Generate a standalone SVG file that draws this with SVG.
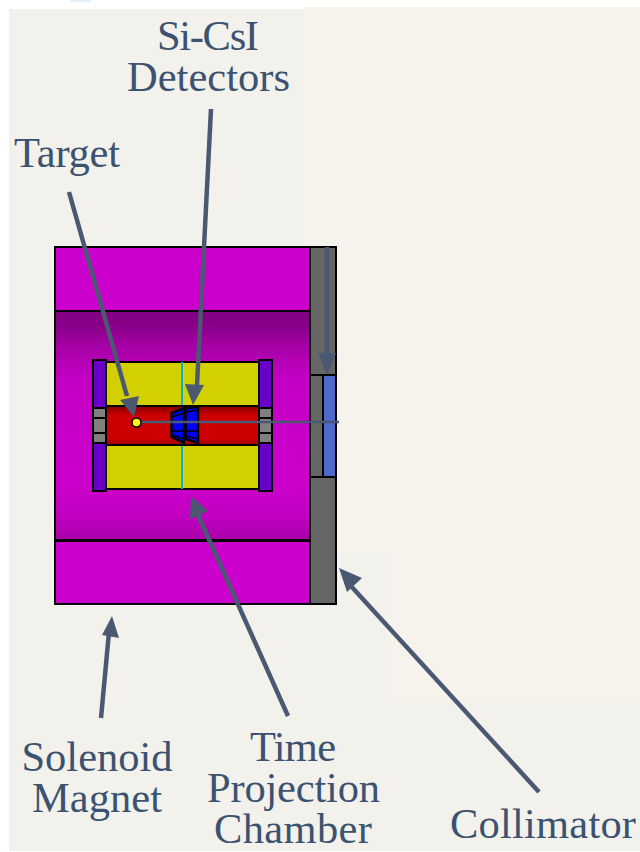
<svg xmlns="http://www.w3.org/2000/svg" width="640" height="852" viewBox="0 0 640 852">
<style>
.l{font-family:"Liberation Serif","Times New Roman",serif;font-size:42.5px;fill:#3b5370;text-anchor:middle}
.s{stroke:#000;stroke-width:2}
.c{stroke:#4a5871;stroke-width:4.5;fill:none}
.h{fill:#4a5871}
</style>
<defs>
<linearGradient id="bore" x1="0" y1="0" x2="0" y2="1">
<stop offset="0" stop-color="#800080"/><stop offset=".08" stop-color="#8c008c"/><stop offset=".16" stop-color="#a800a8"/><stop offset=".3" stop-color="#c400c4"/><stop offset=".75" stop-color="#cc00cc"/><stop offset=".9" stop-color="#c000c0"/><stop offset="1" stop-color="#a800a8"/>
</linearGradient>
<linearGradient id="red" x1="0" y1="0" x2="0" y2="1">
<stop offset="0" stop-color="#8a0000"/><stop offset=".25" stop-color="#cc0000"/><stop offset=".85" stop-color="#cc0000"/><stop offset="1" stop-color="#990000"/>
</linearGradient>
</defs>
<rect width="640" height="852" fill="#fff"/>
<rect x="70" y="0" width="21" height="2" fill="#e3effb"/>
<rect x="9" y="9" width="631" height="842" fill="#f3f1eb"/>
<rect x="304" y="7" width="336" height="546" fill="#f6f3ec"/>
<rect x="385" y="553" width="255" height="147" fill="#f6f3ec"/>
<g id="magnet">
<rect x="55" y="247" width="255" height="64" fill="#cc00cc" class="s"/>
<rect x="55" y="311" width="255" height="229" fill="url(#bore)" class="s"/>
<rect x="55" y="541" width="255" height="63" fill="#cc00cc" class="s"/>
</g>
<g id="collimator">
<rect x="310" y="247" width="26" height="357" fill="#666" class="s"/>
<rect x="310" y="375" width="13" height="102" fill="#666" class="s"/>
<rect x="323" y="375" width="13" height="102" fill="#5068cc" class="s"/>
</g>
<g id="tpc">
<rect x="106" y="362" width="153" height="127" fill="#d2d000" class="s"/>
<path d="M182 362V406M182 445V489" stroke="#10b0d0" stroke-width="2" fill="none"/>
<rect x="106" y="406" width="153" height="39" fill="url(#red)" class="s"/>
<rect x="93" y="360" width="13" height="131" fill="#6a00c8" class="s"/>
<rect x="259" y="360" width="13" height="131" fill="#6a00c8" class="s"/>
<rect x="93" y="408" width="13" height="35" fill="#808080" class="s"/>
<rect x="259" y="408" width="13" height="35" fill="#808080" class="s"/>
<path d="M93 418H106M93 433H106M259 418H272M259 433H272" class="s" fill="none"/>
</g>
<g id="detectors">
<path d="M171.500 413L184 408V443L171.500 437Z" fill="#0000ff" stroke="#000" stroke-width="2.500"/>
<path d="M185.500 408L198 407V443L185.500 439Z" fill="#0000ff" stroke="#000" stroke-width="2.500"/>
<path d="M172 417L184 413M186 412L198 410M172 431H184M186 431H198M172 435L184 439M186 436L198 439" stroke="#000" stroke-width="1.500" fill="none"/>
</g>
<g id="target">
<circle cx="136.500" cy="422.500" r="4.500" fill="#ff0" stroke="#000" stroke-width="1.500"/>
</g>
<g id="connectors">
<path d="M142 422H339" stroke="#4a5871" stroke-width="2.500" fill="none"/>
<path class="c" d="M69 192L127 396"/><path class="h" d="M134 417L120 400L139 396Z"/>
<path class="c" d="M211 109L197 385"/><path class="h" d="M193 405L185 384L204 385Z"/>
<path class="c" d="M327 247V360"/><path class="h" d="M327 375L318 353H336Z"/>
<path class="c" d="M288 716L198 515"/><path class="h" d="M191 496L208 511L190 519Z"/>
<path class="c" d="M101 718L109 632"/><path class="h" d="M112 616L119 638L102 635Z"/>
<path class="c" d="M539 792L350 585"/><path class="h" d="M339 568L362 578L347 592Z"/>
</g>
<g id="labels">
<text class="l" x="208" y="50" textLength="102">Si-CsI</text>
<text class="l" x="208.500" y="91" textLength="163">Detectors</text>
<text class="l" x="67" y="167" textLength="106">Target</text>
<text class="l" x="97" y="771" textLength="151">Solenoid</text>
<text class="l" x="97" y="812" textLength="130">Magnet</text>
<text class="l" x="293" y="761" textLength="86">Time</text>
<text class="l" x="293.500" y="802" textLength="173">Projection</text>
<text class="l" x="293" y="843" textLength="158">Chamber</text>
<text class="l" x="543" y="838" textLength="186">Collimator</text>
</g>
</svg>
